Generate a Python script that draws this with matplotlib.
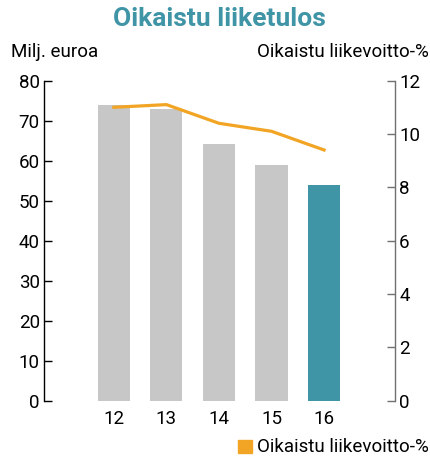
import numpy as np
import matplotlib
matplotlib.use('Agg')
import matplotlib.pyplot as plt
from matplotlib.patches import Rectangle

plt.rcParams['font.family'] = ['Roboto', 'DejaVu Sans']

years = ['12', '13', '14', '15', '16']
liiketulos = [73.8, 72.8, 64.2, 58.9, 54.0]      # Milj. euroa
liikevoitto_pct = [11.0, 11.1, 10.4, 10.1, 9.4]  # %

gray = '#c6c7c6'
teal = '#3f94a6'
orange = '#f2a524'
fs = 13.5

fig = plt.figure(figsize=(4.3, 4.58), dpi=100)
ax = fig.add_axes([0.1023, 0.125, 0.8163, 0.699])
x = np.arange(len(years))
colors = [gray] * (len(years) - 1) + [teal]
ax.bar(x, liiketulos, width=0.61, color=colors, zorder=2)
ax.set_xlim(-1.33, len(years) - 1 + 1.35)
ax.set_ylim(0, 80)
ax.set_yticks(np.arange(0, 81, 10))
ax.set_xticks(x)
ax.set_xticklabels(years)
for s in ['top', 'right', 'bottom']:
    ax.spines[s].set_visible(False)
ax.spines['left'].set_bounds(0, 80)
ax.spines['left'].set_linewidth(1.0)
ax.tick_params(axis='y', direction='in', length=6, width=1.0, labelsize=fs, pad=3)
ax.tick_params(axis='x', length=0, labelsize=fs, pad=7)

ax2 = ax.twinx()
ax2.plot(x, liikevoitto_pct, color=orange, lw=2.3, zorder=3)
ax2.set_ylim(0, 12)
ax2.set_yticks(np.arange(0, 13, 2))
for s in ['top', 'left', 'bottom']:
    ax2.spines[s].set_visible(False)
ax2.spines['right'].set_color('#707070')
ax2.spines['right'].set_linewidth(1.0)
ax2.tick_params(axis='y', direction='in', length=6, width=1.0, color='#707070',
                labelsize=fs, pad=3)

fig.text(0.51, 0.958, 'Oikaistu liiketulos', ha='center', va='center',
         fontsize=19, fontweight='bold', color=teal)
fig.text(0.026, 0.886, 'Milj. euroa', ha='left', va='center', fontsize=fs)
fig.text(0.997, 0.886, 'Oikaistu liikevoitto-%', ha='right', va='center', fontsize=fs)

# legend
fig.patches.append(Rectangle((0.553, 0.011), 0.033, 0.029, transform=fig.transFigure,
                             color=orange, figure=fig))
fig.text(0.997, 0.025, 'Oikaistu liikevoitto-%', ha='right', va='center', fontsize=fs)

fig.savefig('out.png', dpi=100)
